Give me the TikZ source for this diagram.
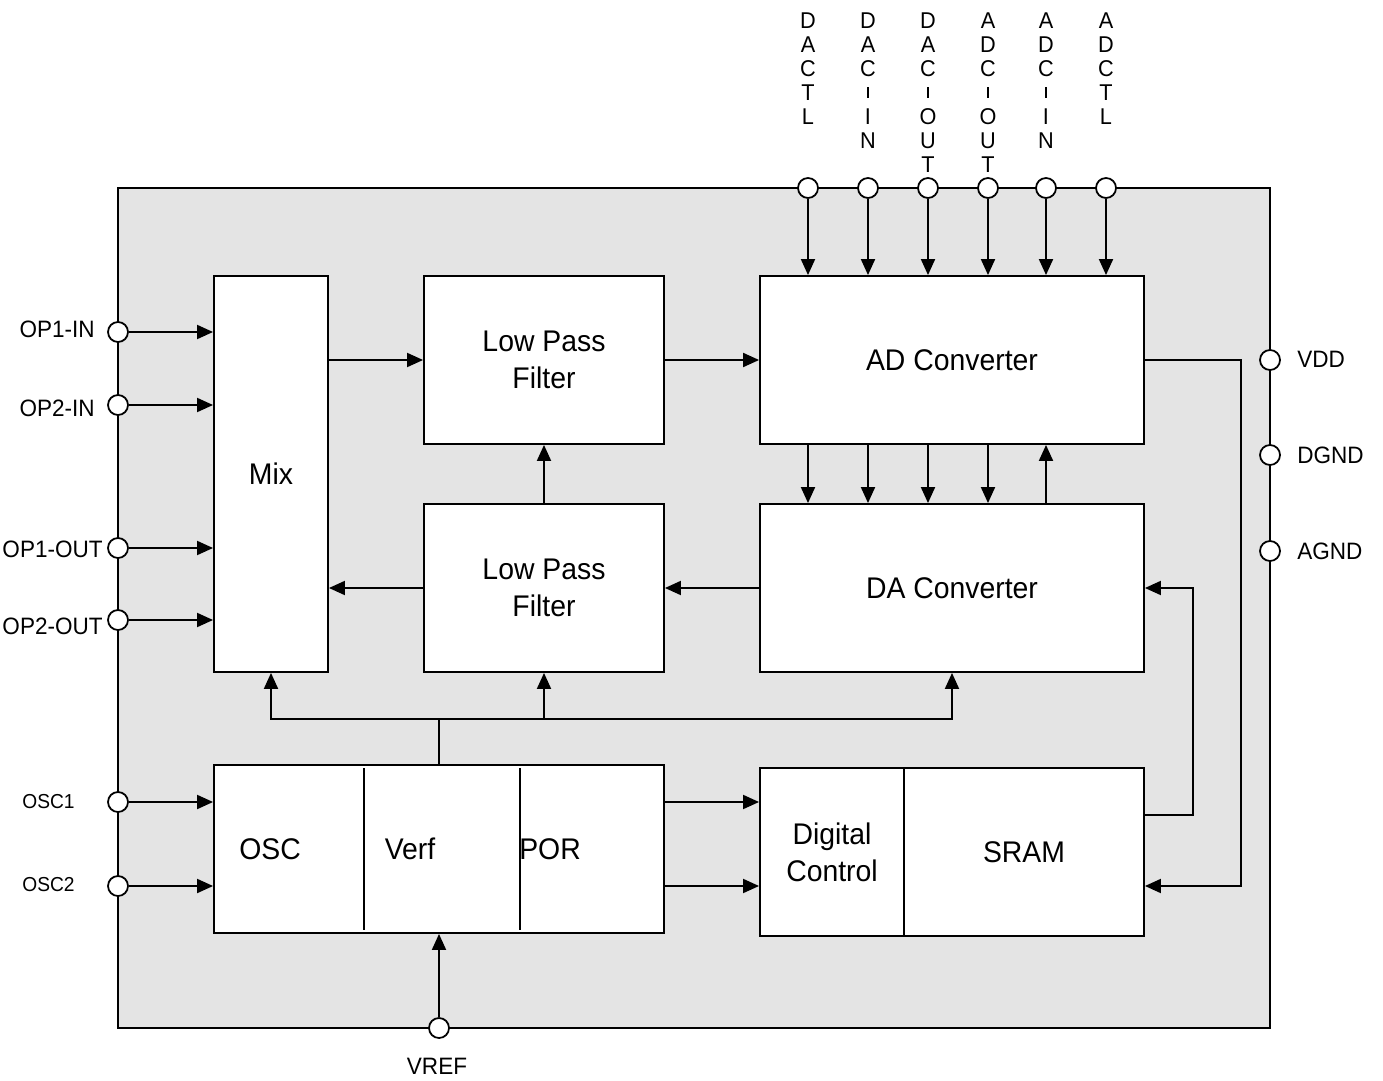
\documentclass[tikz,border=0pt]{standalone}
\usepackage{fontspec}
\setmainfont[FakeStretch=0.95]{Liberation Sans}
\usetikzlibrary{arrows.meta,calc}
\definecolor{chipgray}{RGB}{228,228,228}
\begin{document}
\begin{tikzpicture}[x=0.02cm,y=-0.02cm,
  chipbox/.style={draw, line width=1.1pt, fill=chipgray, inner sep=0pt},
  blk/.style={draw, line width=1.1pt, fill=white, inner sep=0pt, align=center, font=\fontsize{17}{21}\selectfont},
  pin/.style={circle, draw, line width=1pt, fill=white, minimum size=0.4cm, inner sep=0pt},
  conn/.style={line width=1.1pt, -{Triangle[length=0.32cm,width=0.28cm]}},
  wire/.style={line width=1.1pt},
  btext/.style={inner sep=0pt, font=\fontsize{17}{21}\selectfont},
  plab/.style={inner sep=0pt, font=\fontsize{13.5}{15}\selectfont},
  slab/.style={inner sep=0pt, font=\fontsize{11.5}{13}\selectfont},
  vlab/.style={inner sep=0pt, anchor=north, align=center, font=\fontsize{13}{13.66}\selectfont}
]
\useasboundingbox (0,0) rectangle (1383,1081);
\newcommand{\vhy}{\rule[1.3pt]{0.9pt}{6.4pt}}

% chip outline
\node[chipbox, minimum width=23.04cm, minimum height=16.8cm] (chip) at (694,608) {};

% blocks
\node[blk, minimum width=2.28cm, minimum height=7.92cm] (mix) at (271,474) {Mix};
\node[blk, minimum width=4.8cm, minimum height=3.36cm] (lpf1) at (544,360) {Low Pass\\Filter};
\node[blk, minimum width=4.8cm, minimum height=3.36cm] (lpf2) at (544,588) {Low Pass\\Filter};
\node[blk, minimum width=7.68cm, minimum height=3.36cm] (ad) at (952,360) {AD Converter};
\node[blk, minimum width=7.68cm, minimum height=3.36cm] (da) at (952,588) {DA Converter};
\node[blk, minimum width=9cm, minimum height=3.36cm] (osc) at (439,849) {};
\node[blk, minimum width=2.88cm, minimum height=3.36cm] (dig) at (832,852) {Digital\\Control};
\node[blk, minimum width=4.8cm, minimum height=3.36cm] (sram) at (1024,852) {SRAM};
\draw[wire] (364,768) -- (364,930);
\draw[wire] (520,768) -- (520,930);
\node[btext] (osct) at (270,849) {OSC};
\node[btext] (verft) at (410,849) {Verf};
\node[btext] (port) at (550,849) {POR};

% top pins
\foreach \i/\x/\t in {1/808/{D\\A\\C\\T\\L},
                       2/868/{D\\A\\C\\\vhy\\I\\N},
                       3/928/{D\\A\\C\\\vhy\\O\\U\\T},
                       4/988/{A\\D\\C\\\vhy\\O\\U\\T},
                       5/1046/{A\\D\\C\\\vhy\\I\\N},
                       6/1106/{A\\D\\C\\T\\L}}{
  \node[pin] (tp\i) at (\x,188) {};
  \node[vlab] (tl\i) at (\x,12) {\t};
  \draw[conn] (tp\i) -- (tp\i |- ad.north);
}

% left pins
\node[pin] (pop1in) at (118,332) {};
\node[pin] (pop2in) at (118,405) {};
\node[pin] (pop1out) at (118,548) {};
\node[pin] (pop2out) at (118,620) {};
\node[pin] (posc1) at (118,802) {};
\node[pin] (posc2) at (118,886) {};
\node[plab, anchor=east] (lop1in) at (95,329) {OP1-IN};
\node[plab, anchor=east] (lop2in) at (95,408) {OP2-IN};
\node[plab, anchor=east] (lop1out) at (103,549) {OP1-OUT};
\node[plab, anchor=east] (lop2out) at (103,626) {OP2-OUT};
\node[slab, anchor=east] (losc1) at (75,802) {OSC1};
\node[slab, anchor=east] (losc2) at (75,885) {OSC2};

% right pins
\node[pin] (pvdd) at (1270,360) {};
\node[pin] (pdgnd) at (1270,455) {};
\node[pin] (pagnd) at (1270,551) {};
\node[plab, anchor=west] (lvdd) at (1297,359) {VDD};
\node[plab, anchor=west] (ldgnd) at (1297,455) {DGND};
\node[plab, anchor=west] (lagnd) at (1297,551) {AGND};

% bottom pin
\node[pin] (pvref) at (439,1028) {};
\node[plab] (lvref) at (437,1066) {VREF};

% connections
\draw[conn] (pop1in) -- (mix.west |- pop1in);
\draw[conn] (pop2in) -- (mix.west |- pop2in);
\draw[conn] (pop1out) -- (mix.west |- pop1out);
\draw[conn] (pop2out) -- (mix.west |- pop2out);
\draw[conn] (posc1) -- (osc.west |- posc1);
\draw[conn] (posc2) -- (osc.west |- posc2);

\draw[conn] (mix.east |- lpf1.west) -- (lpf1.west);
\draw[conn] (lpf1.east) -- (ad.west);
\draw[conn] (lpf2.north) -- (lpf2.north |- lpf1.south);
\draw[conn] (da.west) -- (lpf2.east);
\draw[conn] (lpf2.west) -- (mix.east |- lpf2.west);

\foreach \i in {1,2,3,4}{
  \draw[conn] (tp\i |- ad.south) -- (tp\i |- da.north);
}
\draw[conn] (tp5 |- da.north) -- (tp5 |- ad.south);

\draw[wire] (osc.north) -- ++(0,-45) coordinate (bus);
\draw[conn] (bus) -| (mix.south);
\draw[conn] (bus) -| (lpf2.south);
\draw[conn] (bus) -| (da.south);

\draw[conn] (pvref) -- (pvref |- osc.south);

\draw[conn] (osc.east |- posc1) -- (dig.west |- posc1);
\draw[conn] (osc.east |- posc2) -- (dig.west |- posc2);

\coordinate (sramout) at ($(sram.north east)!0.28!(sram.south east)$);
\draw[conn] (sramout) -- ++(48,0) |- (da.east);
\draw[conn] (ad.east) -- ++(96,0) |- (sram.east |- posc2);
\end{tikzpicture}
\end{document}
